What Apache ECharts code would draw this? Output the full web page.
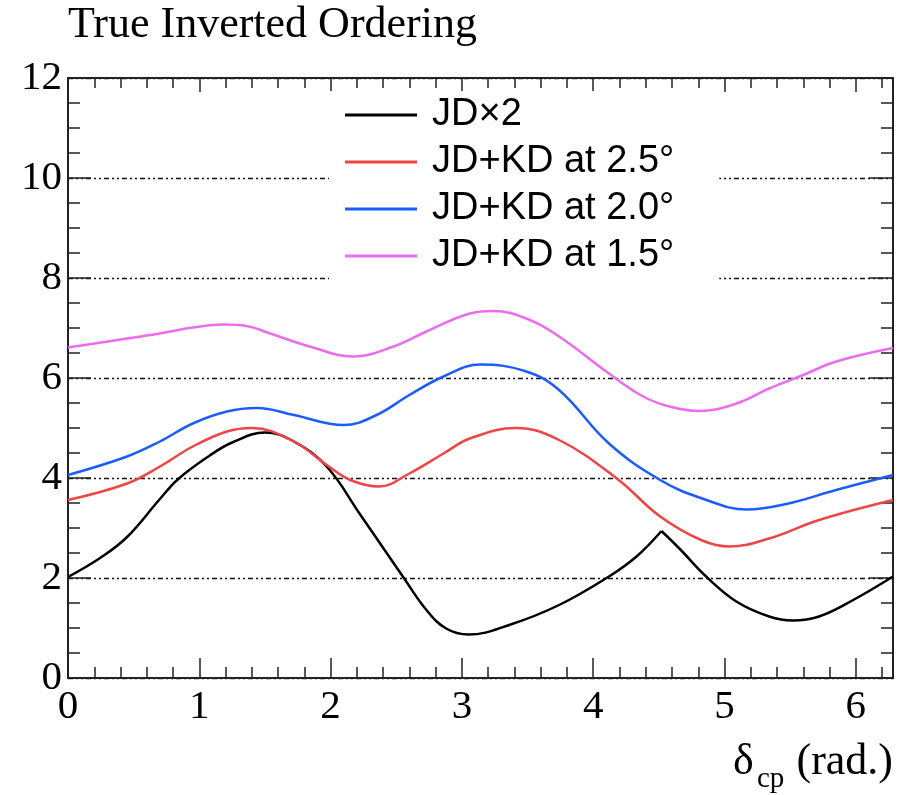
<!DOCTYPE html>
<html>
<head>
<meta charset="utf-8">
<script src="https://cdn.jsdelivr.net/npm/echarts@6/dist/echarts.min.js"></script>
<style>
  html, body { margin: 0; padding: 0; background: #fff; }
  #chart { width: 910px; height: 795px; }
</style>
</head>
<body>
<div id="chart"></div>
<script>
const TWO_PI = 2 * Math.PI;

// JD×2: delta_CP (rad.) and sensitivity; the curve has a cusp at index jdCusp
const jdDelta = [0, 0.25, 0.45, 0.70, 0.84, 1.08, 1.25, 1.50, 1.72, 1.97, 2.22, 2.55, 2.73, 2.88,
                 3.05, 3.36, 3.74, 4.12, 4.33, 4.52, 4.66, 4.86, 5.09, 5.34, 5.52, 5.72, 5.98, TWO_PI];
const jdSens  = [2.02, 2.41, 2.82, 3.58, 3.98, 4.45, 4.71, 4.91, 4.73, 4.23, 3.29, 2.03, 1.36, 0.99,
                 0.87, 1.06, 1.46, 2.03, 2.43, 2.94, 2.58, 2.03, 1.53, 1.23, 1.15, 1.23, 1.56, 2.03];
const jdCusp = 19;

// JD+KD at 2.5°
const kd25Delta = [0, 0.45, 0.70, 0.95, 1.21, 1.40, 1.72, 1.97, 2.15, 2.37, 2.60, 2.86, 3.06,
                   3.41, 3.74, 4.18, 4.51, 4.83, 5.04, 5.34, 5.72, TWO_PI];
const kd25Sens  = [3.56, 3.89, 4.23, 4.63, 4.93, 5.00, 4.73, 4.26, 3.96, 3.83, 4.09, 4.49, 4.79,
                   5.00, 4.76, 3.99, 3.23, 2.75, 2.63, 2.79, 3.16, 3.56];

// JD+KD at 2.0°
const kd20Delta = [0, 0.45, 0.70, 0.95, 1.21, 1.44, 1.72, 2.10, 2.35, 2.60, 2.86, 3.14, 3.49,
                   3.74, 4.12, 4.51, 4.83, 5.17, 5.47, 5.85, TWO_PI];
const kd20Sens  = [4.06, 4.43, 4.73, 5.09, 5.33, 5.40, 5.26, 5.06, 5.26, 5.66, 6.03, 6.27, 6.13,
                   5.76, 4.69, 3.96, 3.59, 3.37, 3.48, 3.76, 4.06];

// JD+KD at 1.5°
const kd15Delta = [0, 0.45, 0.70, 0.95, 1.18, 1.36, 1.54, 1.84, 2.17, 2.48, 2.73, 3.06, 3.24,
                   3.49, 3.74, 4.12, 4.38, 4.58, 4.81, 5.09, 5.34, 5.60, 5.85, TWO_PI];
const kd15Sens  = [6.61, 6.79, 6.89, 7.01, 7.07, 7.04, 6.89, 6.63, 6.43, 6.63, 6.93, 7.29, 7.34,
                   7.19, 6.83, 6.09, 5.63, 5.43, 5.34, 5.49, 5.79, 6.06, 6.33, 6.60];

const seriesNames = ['JD\u00d72', 'JD+KD at 2.5\u00b0', 'JD+KD at 2.0\u00b0', 'JD+KD at 1.5\u00b0'];
const seriesColors = ['#000000', '#ef4545', '#1c5cff', '#ec6cf0'];

const yTicks = ['0', '2', '4', '6', '8', '10', '12'];
const xTicks = ['0', '1', '2', '3', '4', '5', '6'];

const serif = '"Liberation Serif", "DejaVu Serif", serif';
const sans = '"Liberation Sans", Arial, sans-serif';
const frame = '#222';

function pairs(xs, ys, from, to) {
  const out = [];
  for (let i = from; i <= to; i++) out.push([xs[i], ys[i]]);
  return out;
}

function curve(name, color, data) {
  return {
    type: 'line', name: name, color: color, data: data,
    xAxisIndex: 0, yAxisIndex: 0,
    showSymbol: false, smooth: 0.4,
    lineStyle: { width: 2.5, color: color },
    emphasis: { disabled: true }
  };
}

const chart = echarts.init(document.getElementById('chart'), null, { renderer: 'canvas' });
chart.setOption({
  animation: false,
  backgroundColor: '#fff',
  grid: { left: 68, right: 17, top: 78, bottom: 117, containLabel: false, outerBoundsMode: 'none' },
  legend: {
    orient: 'vertical',
    left: 329, top: 91,
    backgroundColor: '#fff',
    padding: [4, 45, 10, 16],
    itemWidth: 72, itemHeight: 3, itemGap: 7,
    icon: 'rect',
    selectedMode: false,
    data: seriesNames,
    textStyle: { fontFamily: sans, fontSize: 38, color: '#000', lineHeight: 40, padding: [0, 0, 0, 10] }
  },
  graphic: [
    { type: 'text', x: 68, y: 25, silent: true,
      style: { text: 'True Inverted Ordering', font: '44px ' + serif, fill: '#000', align: 'left', verticalAlign: 'middle' } },
    { type: 'text', x: 733, y: 762, silent: true,
      style: { text: '\u03b4', font: '44px ' + serif, fill: '#000', align: 'left', verticalAlign: 'middle' } },
    { type: 'text', x: 757, y: 779, silent: true,
      style: { text: 'cp', font: '29px ' + serif, fill: '#000', align: 'left', verticalAlign: 'middle' } },
    { type: 'text', x: 893, y: 762, silent: true,
      style: { text: '(rad.)', font: '44px ' + serif, fill: '#000', align: 'right', verticalAlign: 'middle' } }
  ],
  xAxis: [
    { // bottom: major ticks + labels
      type: 'value', position: 'bottom', min: 0, max: TWO_PI, interval: 1,
      axisLine: { show: true, onZero: false, lineStyle: { color: frame, width: 2 } },
      axisTick: { show: true, inside: true, length: 20, lineStyle: { color: frame, width: 1.5 } },
      axisLabel: {
        show: true, margin: 8, fontFamily: serif, fontSize: 41, color: '#000', lineHeight: 42,
        formatter: function (v) { const i = Math.round(v); return Math.abs(v - i) < 1e-6 ? xTicks[i] : ''; }
      },
      splitLine: { show: false }
    },
    { // bottom: minor ticks
      type: 'value', position: 'bottom', min: 0, max: TWO_PI, interval: 0.2,
      axisLine: { show: false, onZero: false },
      axisTick: { show: true, inside: true, length: 11, lineStyle: { color: frame, width: 1.5 } },
      axisLabel: { show: false }, splitLine: { show: false }
    },
    { // top: major ticks
      type: 'value', position: 'top', min: 0, max: TWO_PI, interval: 1,
      axisLine: { show: true, onZero: false, lineStyle: { color: frame, width: 2 } },
      axisTick: { show: true, inside: true, length: 14, lineStyle: { color: frame, width: 1.5 } },
      axisLabel: { show: false }, splitLine: { show: false }
    },
    { // top: minor ticks
      type: 'value', position: 'top', min: 0, max: TWO_PI, interval: 0.2,
      axisLine: { show: false, onZero: false },
      axisTick: { show: true, inside: true, length: 10, lineStyle: { color: frame, width: 1.5 } },
      axisLabel: { show: false }, splitLine: { show: false }
    }
  ],
  yAxis: [
    {
      type: 'value', position: 'left', min: 0, max: 12, interval: 2,
      axisLine: { show: true, onZero: false, lineStyle: { color: frame, width: 2 } },
      axisTick: { show: true, inside: true, length: 23, lineStyle: { color: frame, width: 1.5 } },
      minorTick: { show: true, splitNumber: 4, length: 12, lineStyle: { color: frame, width: 1.5 } },
      axisLabel: {
        show: true, margin: 6, fontFamily: serif, fontSize: 41, color: '#000',
        formatter: function (v) { return yTicks[Math.round(v / 2)]; }
      },
      splitLine: { show: true, lineStyle: { color: '#111', width: 1.3, type: [5, 3, 2, 3, 2, 3] } }
    },
    {
      type: 'value', position: 'right', min: 0, max: 12, interval: 2,
      axisLine: { show: true, onZero: false, lineStyle: { color: frame, width: 2 } },
      axisTick: { show: true, inside: true, length: 24, lineStyle: { color: frame, width: 1.5 } },
      minorTick: { show: true, splitNumber: 4, length: 12, lineStyle: { color: frame, width: 1.5 } },
      axisLabel: { show: false }, splitLine: { show: false }
    }
  ],
  series: [
    curve(seriesNames[0], seriesColors[0], pairs(jdDelta, jdSens, 0, jdCusp)),
    curve(seriesNames[0], seriesColors[0], pairs(jdDelta, jdSens, jdCusp, jdDelta.length - 1)),
    curve(seriesNames[1], seriesColors[1], pairs(kd25Delta, kd25Sens, 0, kd25Delta.length - 1)),
    curve(seriesNames[2], seriesColors[2], pairs(kd20Delta, kd20Sens, 0, kd20Delta.length - 1)),
    curve(seriesNames[3], seriesColors[3], pairs(kd15Delta, kd15Sens, 0, kd15Delta.length - 1))
  ]
});
</script>
</body>
</html>
